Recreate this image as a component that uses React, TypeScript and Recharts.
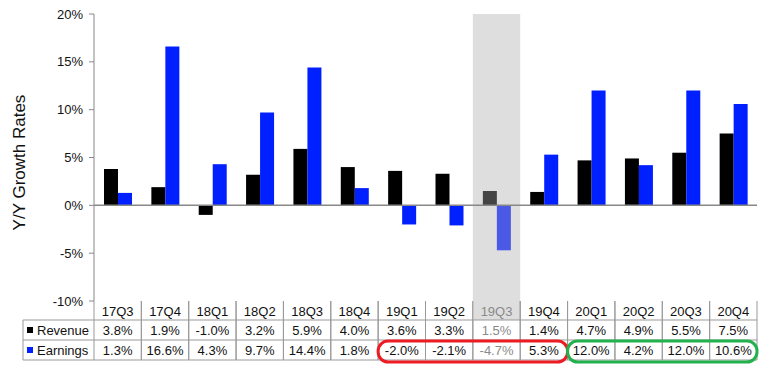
import { BarChart, Bar, XAxis, YAxis, Cell, ReferenceArea, ReferenceLine } from 'recharts';

const quarters = ['17Q3', '17Q4', '18Q1', '18Q2', '18Q3', '18Q4', '19Q1', '19Q2', '19Q3', '19Q4', '20Q1', '20Q2', '20Q3', '20Q4'];
const revenue = [3.8, 1.9, -1.0, 3.2, 5.9, 4.0, 3.6, 3.3, 1.5, 1.4, 4.7, 4.9, 5.5, 7.5];
const earnings = [1.3, 16.6, 4.3, 9.7, 14.4, 1.8, -2.0, -2.1, -4.7, 5.3, 12.0, 4.2, 12.0, 10.6];
const yTicks = [-10, -5, 0, 5, 10, 15, 20];
const highlightQuarter = '19Q3';
const earningsCallouts = [
  { from: '19Q1', to: '19Q4', color: '#ED1C24' },
  { from: '20Q1', to: '20Q4', color: '#22B14C' },
];

const data = quarters.map((q, i) => ({ q, revenue: revenue[i], earnings: earnings[i] }));

const W = 779;
const H = 374;
const MARGIN = { top: 14, right: 22, left: 0, bottom: 0 };
const Y_AXIS_W = 94;
const X_AXIS_H = 73;
const COL_W = (W - MARGIN.right - Y_AXIS_W) / quarters.length;
const LEGEND_W = 71;
const ROWS = [19, 20, 20]; // header, revenue, earnings
const FONT = 'Arial, "Liberation Sans", sans-serif';
const LINE = '#999';

const fmt = (v: number) => `${v.toFixed(1)}%`;

const TableTick = (props: any) => {
  const { x, y, payload } = props;
  const i = quarters.indexOf(payload.value);
  const left = x - COL_W / 2;
  const right = x + COL_W / 2;
  const r1 = y + ROWS[0];
  const r2 = r1 + ROWS[1];
  const r3 = r2 + ROWS[2];
  const muted = payload.value === highlightQuarter;
  const color = muted ? '#8a8a8a' : '#111';
  const last = quarters.length - 1;
  const colLeft = (j: number) => x - (i - j) * COL_W - COL_W / 2;

  return (
    <g fontFamily={FONT} fontSize={13}>
      {muted && <rect x={left} y={y} width={COL_W} height={ROWS[0]} fill="#dedede" />}
      <line x1={left} y1={y} x2={left} y2={r3} stroke={LINE} />
      <line x1={right} y1={y} x2={right} y2={r3} stroke={LINE} />
      <line x1={left} y1={r1} x2={right} y2={r1} stroke={LINE} />
      <line x1={left} y1={r2} x2={right} y2={r2} stroke={LINE} />
      <line x1={left} y1={r3} x2={right} y2={r3} stroke={LINE} />
      <text x={x} y={y + 15} textAnchor="middle" fill={color}>{payload.value}</text>
      <text x={x} y={r1 + 15} textAnchor="middle" fill={color}>{fmt(revenue[i])}</text>
      <text x={x} y={r2 + 15} textAnchor="middle" fill={color}>{fmt(earnings[i])}</text>
      {i === 0 && (
        <g>
          <line x1={left - LEGEND_W} y1={r1} x2={left} y2={r1} stroke={LINE} />
          <line x1={left - LEGEND_W} y1={r2} x2={left} y2={r2} stroke={LINE} />
          <line x1={left - LEGEND_W} y1={r3} x2={left} y2={r3} stroke={LINE} />
          <line x1={left - LEGEND_W} y1={r1} x2={left - LEGEND_W} y2={r3} stroke={LINE} />
          <rect x={left - LEGEND_W + 4} y={r1 + 7} width={6} height={6} fill="#000" />
          <text x={left - LEGEND_W + 14} y={r1 + 15} fill="#111">Revenue</text>
          <rect x={left - LEGEND_W + 4} y={r2 + 7} width={6} height={6} fill="#0020FF" />
          <text x={left - LEGEND_W + 14} y={r2 + 15} fill="#111">Earnings</text>
        </g>
      )}
      {i === last &&
        earningsCallouts.map((c) => {
          const a = colLeft(quarters.indexOf(c.from));
          const b = colLeft(quarters.indexOf(c.to)) + COL_W;
          return (
            <rect key={c.from} x={a} y={r2 + 1} width={b - a} height={ROWS[2] + 1} rx={10} ry={10}
              fill="none" stroke={c.color} strokeWidth={3} />
          );
        })}
    </g>
  );
};

const YLabel = (props: any) => {
  const vb = props.viewBox || { x: 0, y: MARGIN.top, height: H - MARGIN.top - X_AXIS_H };
  const cx = vb.x + 25;
  const cy = vb.y + vb.height / 2 + 5;
  return (
    <text x={cx} y={cy} transform={`rotate(-90, ${cx}, ${cy})`} textAnchor="middle"
      fontFamily={FONT} fontSize={17} fill="#111">Y/Y Growth Rates</text>
  );
};

export default function App() {
  return (
    <div style={{ position: 'absolute', left: 0, top: 0, background: '#fff' }}>
      <BarChart width={W} height={H} data={data} margin={MARGIN} barSize={14} barGap={0}>
        <ReferenceArea x1={highlightQuarter} x2={highlightQuarter} y1={-10} y2={20} fill="#dedede" fillOpacity={1} stroke="none" />
        <XAxis dataKey="q" axisLine={false} tickLine={false} tickSize={0} tickMargin={0} height={X_AXIS_H} interval={0} tick={<TableTick />} />
        <YAxis
          width={Y_AXIS_W}
          domain={[-10, 20]}
          ticks={yTicks}
          tickFormatter={(v: number) => `${v}%`}
          axisLine={{ stroke: '#888' }}
          tickLine={{ stroke: '#888' }}
          tickSize={5}
          tickMargin={6}
          tick={{ fill: '#111', fontSize: 13, fontFamily: FONT }}
          label={<YLabel />}
        />
        <ReferenceLine y={0} stroke="#888" strokeWidth={1.5} />
        <Bar dataKey="revenue" fill="#000" isAnimationActive={false}>
          {data.map((d) => (
            <Cell key={d.q} fill={d.q === highlightQuarter ? '#444' : '#000'} />
          ))}
        </Bar>
        <Bar dataKey="earnings" fill="#0020FF" isAnimationActive={false}>
          {data.map((d) => (
            <Cell key={d.q} fill={d.q === highlightQuarter ? '#4A5AE6' : '#0020FF'} />
          ))}
        </Bar>
      </BarChart>
    </div>
  );
}
